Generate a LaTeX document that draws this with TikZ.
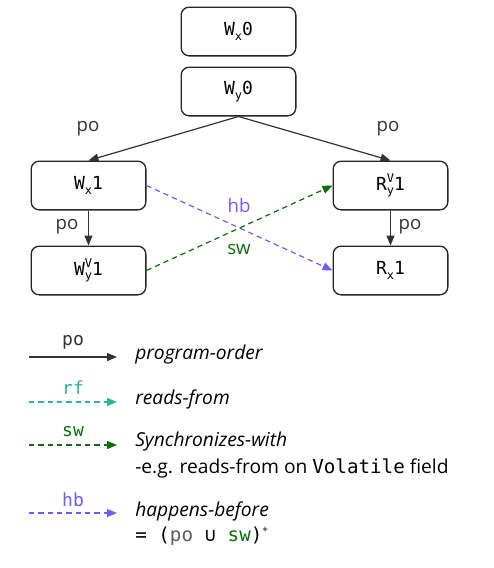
\documentclass[tikz,border=0pt]{standalone}
\usepackage{fontspec}
\setmainfont{Open Sans}
\setmonofont{DejaVu Sans Mono}
\usetikzlibrary{arrows.meta}
\definecolor{hbcol}{HTML}{6E5CFF}
\definecolor{swcol}{HTML}{0A6E0A}
\definecolor{rfcol}{HTML}{2BB59E}
\definecolor{pocol}{HTML}{333333}
\newcommand{\subx}[1]{\raisebox{-0.45ex}{\fontsize{9}{9}\selectfont #1}}
\newcommand{\supsubx}[2]{\makebox[0pt][l]{\raisebox{0.75ex}{\fontsize{9}{9}\selectfont #1}}\raisebox{-0.45ex}{\fontsize{9}{9}\selectfont #2}}
\begin{document}
\begin{tikzpicture}[x=0.75pt,y=-0.75pt,
  ev/.style={draw=black!85, line width=1pt, rounded corners=6pt, minimum width=86pt, minimum height=36.5pt, inner sep=0pt, font=\ttfamily\fontsize{13.5}{15}\selectfont, fill=white},
  poarrow/.style={draw=pocol, line width=0.9pt, -{Triangle[length=7.5pt,width=6pt]}},
  hbarrow/.style={draw=hbcol, line width=0.9pt, dashed, dash pattern=on 4pt off 3pt, -{Triangle[length=7.5pt,width=6pt]}},
  swarrow/.style={draw=swcol, line width=0.9pt, dashed, dash pattern=on 4pt off 3pt, -{Triangle[length=7.5pt,width=6pt]}},
  rfarrow/.style={draw=rfcol, line width=0.9pt, dashed, dash pattern=on 4pt off 3pt, -{Triangle[length=7.5pt,width=6pt]}},
  lbl/.style={font=\fontsize{14}{16}\selectfont, inner sep=0pt},
  glbl/.style={font=\ttfamily\fontsize{13.5}{15}\selectfont, inner sep=0pt},
  desc/.style={font=\itshape\fontsize{14.4}{16}\selectfont, anchor=west, inner sep=0pt},
  descr/.style={font=\fontsize{14.4}{16}\selectfont, anchor=west, inner sep=0pt}]
\useasboundingbox (0,0) rectangle (493,568);
\fill[white] (0,0) rectangle (493,568);

\node[ev] (wx0) at (238.5,31.5) {W\subx{x}0};
\node[ev] (wy0) at (238.5,91.5) {W\subx{y}0};
\node[ev] (wx1) at (88.5,185.5) {W\subx{x}1};
\node[ev] (wy1) at (88.5,270.5) {W\supsubx{V}{y}1};
\node[ev] (ry1) at (390.5,185.5) {R\supsubx{V}{y}1};
\node[ev] (rx1) at (390.5,270.5) {R\subx{x}1};

\draw[poarrow] (wy0.south) -- (wx1.north);
\draw[poarrow] (wy0.south) -- (ry1.north);
\draw[poarrow] (wx1) -- (wy1);
\draw[poarrow] (ry1) -- (rx1);
\draw[hbarrow] (wx1.east) -- (rx1.west);
\draw[swarrow] (wy1.east) -- (ry1.west);

\node[lbl, text=pocol] (lpo1) at (88,129) {po};
\node[lbl, text=pocol] (lpo2) at (388,129) {po};
\node[lbl, text=pocol] (lpo3) at (67,227) {po};
\node[lbl, text=pocol] (lpo4) at (410,227) {po};
\node[lbl, text=hbcol] (lhb) at (239,205) {hb};
\node[lbl, text=swcol] (lsw) at (239,249) {sw};

% legend
\coordinate (a1) at (29,357); \coordinate (b1) at (117,357);
\coordinate (a2) at (29,402); \coordinate (b2) at (117,402);
\coordinate (a3) at (29,445); \coordinate (b3) at (117,445);
\coordinate (a4) at (29,513); \coordinate (b4) at (117,513);
\draw[poarrow] (a1) -- (b1);
\draw[rfarrow] (a2) -- (b2);
\draw[swarrow] (a3) -- (b3);
\draw[hbarrow] (a4) -- (b4);
\node[glbl, text=pocol] (gpo) at (73,342) {po};
\node[glbl, text=rfcol] (grf) at (73,388) {rf};
\node[glbl, text=swcol] (gsw) at (73,432) {sw};
\node[glbl, text=hbcol] (ghb) at (73,500) {hb};
\node[desc] (dpo) at (135,355) {program-order};
\node[desc] (drf) at (135,399) {reads-from};
\node[desc] (dsw) at (135,442) {Synchronizes-with};
\node[descr] (dsw2) at (135,468) {-e.g. reads-from on {\ttfamily Volatile} field};
\node[desc] (dhb) at (135,511) {happens-before};
\node[descr] (dhb2) at (135,536) {{\ttfamily = (\textcolor{pocol!80}{po} ∪ \textcolor{swcol}{sw})\raisebox{0.8ex}{\fontsize{7}{7}\selectfont +}}};
\end{tikzpicture}
\end{document}
